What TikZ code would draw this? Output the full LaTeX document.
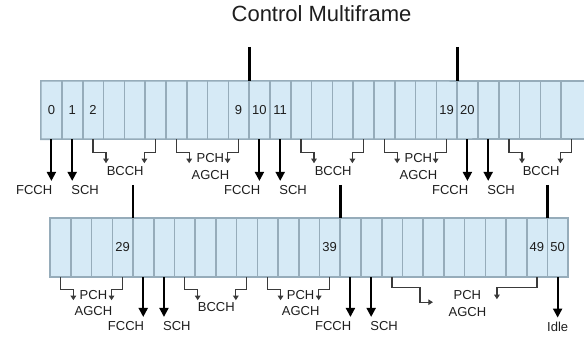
\documentclass[tikz,border=0pt]{standalone}
\usepackage{fontspec}
\setmainfont{Liberation Sans}
\usetikzlibrary{arrows.meta,calc}
\definecolor{cellfill}{HTML}{D6EAF6}
\definecolor{cellline}{HTML}{96ACBA}
\definecolor{ink}{HTML}{1E1E1E}
\definecolor{brk}{HTML}{3A3A3A}
\tikzset{
  cellbox/.style={fill=cellfill, minimum width=#1, inner sep=0pt,
    font=\fontsize{13}{13}\selectfont, text=ink},
  divider/.style={draw=cellline, line width=1.6pt},
  lab/.style={inner sep=0pt, font=\fontsize{13}{13}\selectfont, text=ink},
  bigarrow/.style={line width=2pt, draw=black, -{Triangle[width=9pt,length=9pt]}},
  brline/.style={line width=1.3pt, draw=brk, -{Triangle[width=5.5pt,length=4.5pt]}},
  tickline/.style={line width=2.6pt, draw=black},
}
\begin{document}
\begin{tikzpicture}[x=1pt,y=-1pt]
\useasboundingbox[fill=white] (0,0) rectangle (584,338);
\node[font=\fontsize{22}{22}\selectfont, text=ink, inner sep=0pt, anchor=base] (title) at (321.5,21) {Control Multiframe};
% top row (continues beyond the right edge)
\fill[cellfill] (41,81) rectangle (600,139);
\foreach \i in {0,...,25} {
  \node[cellbox=20.8pt, minimum height=58pt] (c\i) at ({41+(\i+0.5)*20.8},110) {};
}
\draw[divider] (600,81) -- (c0.north west) -- (c0.south west) -- (600,139);
\foreach \i in {0,...,24} { \draw[divider] (c\i.north east) -- (c\i.south east); }
% bottom row
\foreach \i in {26,...,50} {
  \node[cellbox=20.72pt, minimum height=59pt] (c\i) at ({50+(\i-26+0.5)*20.72},247.5) {};
}
\draw[divider] (c26.north west) rectangle (c50.south east);
\foreach \i in {26,...,49} { \draw[divider] (c\i.north east) -- (c\i.south east); }
\foreach \i in {0,1,2,9,10,11,19,20,29,39,49,50} {
  \node[lab] at (c\i) {\i};
}
% ticks
\foreach \c/\h in {9/34,19/34,29/33,39/33,49/33} {
  \coordinate (t\c) at ($(c\c.north east)+(0,-\h)$);
  \draw[tickline] (t\c) -- (c\c.north east);
}
% FCCH / SCH / Idle
\foreach \c in {0,10,20} {
  \node[lab, anchor=base east] (f\c) at ($(c\c.south)+(1,55)$) {FCCH};
  \draw[bigarrow] (c\c.south) -- ($(c\c.south |- f\c.north)+(0,-4)$);
}
\foreach \c in {1,11,21} {
  \node[lab, anchor=base west] (s\c) at ($(c\c.south)+(-1,55)$) {SCH};
  \draw[bigarrow] (c\c.south) -- ($(c\c.south |- s\c.north)+(0,-4)$);
}
\foreach \c in {30,40} {
  \node[lab, anchor=base east] (f\c) at ($(c\c.south)+(1,53)$) {FCCH};
  \draw[bigarrow] (c\c.south) -- ($(c\c.south |- f\c.north)+(0,-4)$);
}
\foreach \c in {31,41} {
  \node[lab, anchor=base west] (s\c) at ($(c\c.south)+(-1,53)$) {SCH};
  \draw[bigarrow] (c\c.south) -- ($(c\c.south |- s\c.north)+(0,-4)$);
}
\node[lab, anchor=base] (idle) at ($(c50.south)+(0,54)$) {Idle};
\draw[bigarrow] (c50.south) -- ($(c50.south |- idle.north)+(0,-4)$);
% brackets, top row
\foreach \a/\b in {2/5,12/15,22/25,6/9,16/19} {
  \draw[brline] (c\a.south) -- ++(0,13) -| ($(c\a.south)+(13,24)$);
  \draw[brline] (c\b.south) -- ++(0,13) -| ($(c\b.south)+(-11,24)$);
}
% brackets, bottom row
\foreach \a/\b in {26/29,32/35,36/39} {
  \draw[brline] (c\a.south) -- ++(0,12) -| ($(c\a.south)+(13,23)$);
  \draw[brline] (c\b.south) -- ++(0,12) -| ($(c\b.south)+(-11,23)$);
}
\draw[brline] (c42.south) -- ++(0,10) -| ($(c42.south)+(28,25)$) -- ($(c42.south)+(41,25)$);
\draw[brline] (c49.south) -- ++(0,10) -| ($(c49.south)+(-40,22)$);
% bracket labels
\foreach \a/\b in {2/5,12/15,22/25} {
  \node[lab, anchor=base] (bc\a) at ($($(c\a.south)!0.5!(c\b.south)$)+(1,36)$) {BCCH};
}
\foreach \a/\b in {6/9,16/19} {
  \node[lab, anchor=base] (pc\a) at ($($(c\a.south)!0.5!(c\b.south)$)+(3,23)$) {PCH};
  \node[lab, anchor=base] (ag\a) at ($($(c\a.south)!0.5!(c\b.south)$)+(3,40)$) {AGCH};
}
\node[lab, anchor=base] (bc32) at ($($(c32.south)!0.5!(c35.south)$)+(0.5,34)$) {BCCH};
\foreach \a/\b in {26/29,36/39} {
  \node[lab, anchor=base] (pc\a) at ($($(c\a.south)!0.5!(c\b.south)$)+(2,22)$) {PCH};
  \node[lab, anchor=base] (ag\a) at ($($(c\a.south)!0.5!(c\b.south)$)+(2,38)$) {AGCH};
}
\node[lab, anchor=base] (pc42) at ($($(c42.south)!0.5!(c49.south)$)+(3,22)$) {PCH};
\node[lab, anchor=base] (ag42) at ($($(c42.south)!0.5!(c49.south)$)+(3,39)$) {AGCH};
\end{tikzpicture}
\end{document}
